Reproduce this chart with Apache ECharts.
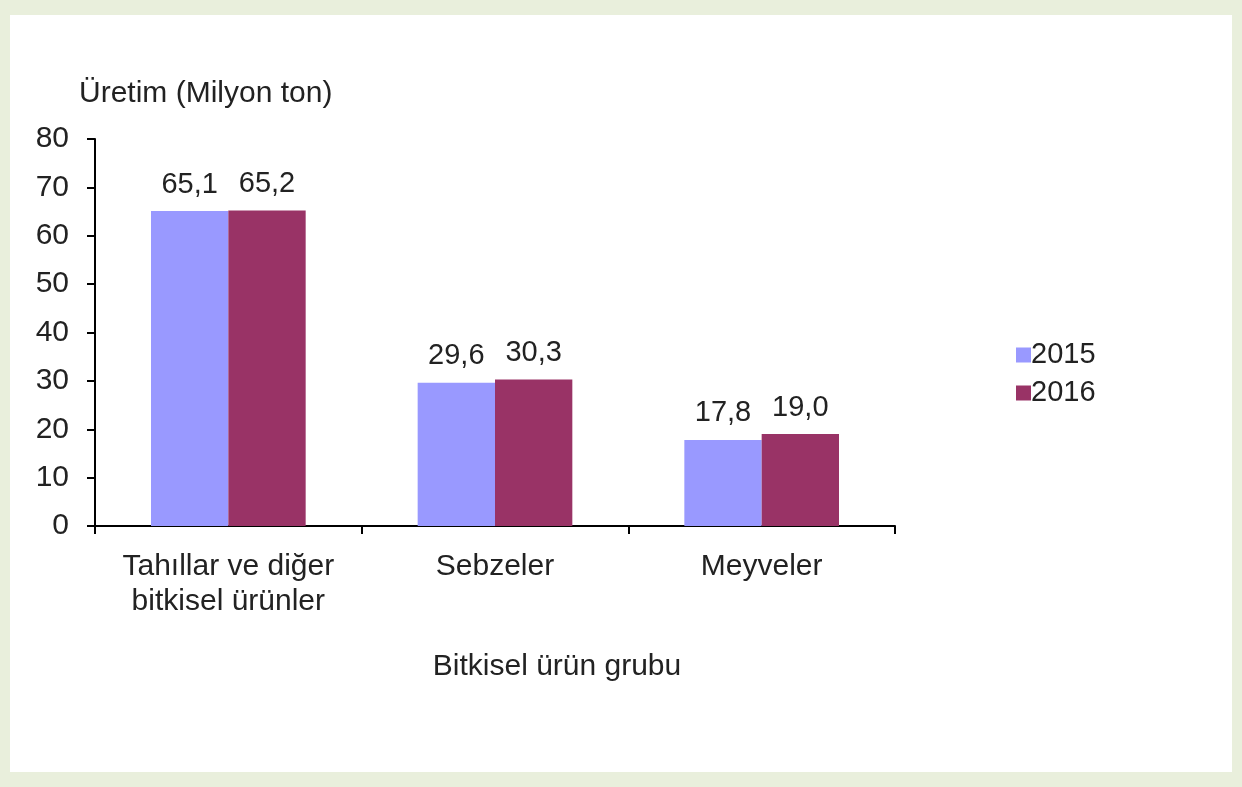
<!DOCTYPE html>
<html>
<head>
<meta charset="utf-8">
<script src="https://cdn.jsdelivr.net/npm/echarts@6/dist/echarts.min.js"></script>
<style>
html,body{margin:0;padding:0;width:1242px;height:787px;background:#e9efdc;overflow:hidden;}
#inner{position:absolute;left:10px;top:15px;width:1222px;height:757px;background:#ffffff;}
#chart{position:absolute;left:0;top:0;width:1242px;height:787px;}
</style>
</head>
<body>
<div id="inner"></div>
<div id="chart"></div>
<script>
const categories = ['Tahıllar ve diğer\nbitkisel ürünler', 'Sebzeler', 'Meyveler'];
const seriesNames = ['2015', '2016'];
const values2015 = [65.1, 29.6, 17.8];
const values2016 = [65.2, 30.3, 19.0];
const yMin = 0, yMax = 80, yInterval = 10;

const font = 'Liberation Sans, Arial, sans-serif';
const textColor = '#222222';
const fs = 30;
const fmt = p => p.value.toFixed(1).replace('.', ',');

const chart = echarts.init(document.getElementById('chart'));
chart.setOption({
  backgroundColor: 'transparent',
  animation: false,
  textStyle: {fontFamily: font, color: textColor},
  grid: {left: 95, top: 139, right: 347, bottom: 261, containLabel: false},
  legend: {
    orient: 'vertical', left: 1011, top: 333,
    icon: 'rect', itemWidth: 15, itemHeight: 15, itemGap: 4,
    textStyle: {fontSize: 29, lineHeight: 34, color: textColor, fontFamily: font, padding: [0,0,0,-5]},
    data: seriesNames
  },
  xAxis: {
    type: 'category', data: categories,
    name: 'Bitkisel ürün grubu', nameLocation: 'middle', nameGap: 126,
    nameTextStyle: {fontSize: fs, color: textColor, fontFamily: font, padding: [0,0,0,124]},
    axisLine: {lineStyle: {color: '#000', width: 2}},
    axisTick: {show: true, inside: false, length: 8, lineStyle: {color: '#000', width: 2}},
    axisLabel: {fontSize: fs, color: textColor, fontFamily: font, margin: 23, lineHeight: 35, interval: 0}
  },
  yAxis: {
    type: 'value', min: yMin, max: yMax, interval: yInterval,
    name: 'Üretim (Milyon ton)', nameLocation: 'end', nameGap: 30,
    nameTextStyle: {fontSize: fs, color: textColor, fontFamily: font, align: 'left', padding: [0,0,0,-16]},
    axisLine: {show: true, lineStyle: {color: '#000', width: 2}},
    axisTick: {show: true, inside: false, length: 8, lineStyle: {color: '#000', width: 2}},
    splitLine: {show: false},
    axisLabel: {fontSize: fs, color: textColor, fontFamily: font, margin: 26}
  },
  series: [
    {
      name: seriesNames[0], type: 'bar', data: values2015,
      barGap: '0%', barCategoryGap: '42%',
      itemStyle: {color: '#9999ff'},
      label: {show: true, position: 'top', distance: 12, fontSize: 29, color: textColor, fontFamily: font, formatter: fmt}
    },
    {
      name: seriesNames[1], type: 'bar', data: values2016,
      barGap: '0%', barCategoryGap: '42%',
      itemStyle: {color: '#993366'},
      label: {show: true, position: 'top', distance: 12, fontSize: 29, color: textColor, fontFamily: font, formatter: fmt}
    }
  ]
});
</script>
</body>
</html>
